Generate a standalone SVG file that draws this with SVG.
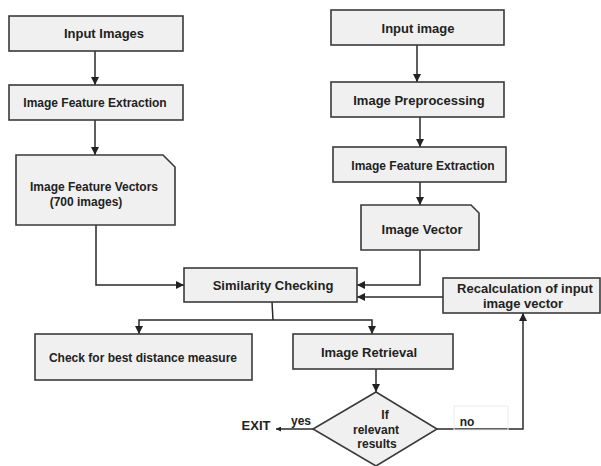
<svg xmlns="http://www.w3.org/2000/svg" width="601" height="466" viewBox="0 0 601 466">
<style>
.box{fill:#f0f0f0;stroke:#3a3a3a;stroke-width:1.6}
.t{font-family:"Liberation Sans",Arial,sans-serif;font-weight:bold;fill:#222;text-anchor:middle}
.s12{font-size:12px}
.s13{font-size:13px}
.c{fill:none;stroke:#2a2a2a;stroke-width:1.5}
</style>
<defs>
<marker id="ah" viewBox="0 0 10 10" refX="10" refY="5" markerWidth="8" markerHeight="8" markerUnits="userSpaceOnUse" orient="auto">
<path d="M0,0 L10,5 L0,10 z" fill="#222"/>
</marker>
<marker id="ahs" viewBox="0 0 10 10" refX="10" refY="5" markerWidth="5" markerHeight="5" markerUnits="userSpaceOnUse" orient="auto">
<path d="M0,0 L10,5 L0,10 z" fill="#222"/>
</marker>
</defs>
<rect width="601" height="466" fill="#fff"/>
<g id="connectors">
<path class="c" d="M95,51 V85" marker-end="url(#ah)"/>
<path class="c" d="M95,120 V155" marker-end="url(#ah)"/>
<path class="c" d="M96,225 V285 H184" marker-end="url(#ah)"/>
<path class="c" d="M417,45 V82" marker-end="url(#ah)"/>
<path class="c" d="M420,117 V147" marker-end="url(#ah)"/>
<path class="c" d="M420,182 V205" marker-end="url(#ah)"/>
<path class="c" d="M420,250 V285 H357" marker-end="url(#ah)"/>
<path class="c" d="M443,297 H357" marker-end="url(#ah)"/>
<path class="c" d="M272,302 L273,320"/>
<path class="c" d="M273,320 H139 V334" marker-end="url(#ah)"/>
<path class="c" d="M273,320 H372 V334" marker-end="url(#ah)"/>
<path class="c" d="M376,369 V392" marker-end="url(#ah)"/>
<path class="c" d="M437,429 H523 V313" marker-end="url(#ah)"/>
<path class="c" d="M313,429 H276" marker-end="url(#ahs)"/>
</g>
<g id="input-images"><rect class="box" x="9" y="16" width="174" height="35"/><text class="t s13" x="104" y="38">Input Images</text></g>
<g id="ife-left"><rect class="box" x="9" y="85" width="174" height="35"/><text class="t s12" x="95" y="107">Image Feature Extraction</text></g>
<g id="feature-vectors"><path class="box" d="M16,155 H163 L175,167 V225 H16 Z"/><text class="t s12" x="94" y="191">Image Feature Vectors</text><text class="t s12" x="86" y="206">(700 images)</text></g>
<g id="input-image"><rect class="box" x="331" y="10" width="173" height="35"/><text class="t s13" x="418" y="33">Input image</text></g>
<g id="preprocessing"><rect class="box" x="331" y="82" width="173" height="35"/><text class="t s13" x="419" y="105">Image Preprocessing</text></g>
<g id="ife-right"><rect class="box" x="333" y="147" width="173" height="35"/><text class="t s12" x="423" y="170">Image Feature Extraction</text></g>
<g id="image-vector"><path class="box" d="M361,205 H471 L479,213 V250 H361 Z"/><text class="t s13" x="422" y="234">Image Vector</text></g>
<g id="similarity"><rect class="box" x="184" y="268" width="173" height="34"/><text class="t s13" x="273" y="290">Similarity Checking</text></g>
<g id="recalc"><rect class="box" x="443" y="278" width="157" height="35"/><text class="t s13" x="525" y="293">Recalculation of input</text><text class="t s13" x="523" y="308">image vector</text></g>
<g id="best-distance"><rect class="box" x="35" y="334" width="217" height="46"/><text class="t s12" x="143" y="362">Check for best distance measure</text></g>
<g id="retrieval"><rect class="box" x="293" y="334" width="160" height="35"/><text class="t s13" x="369" y="357">Image Retrieval</text></g>
<g id="decision"><path class="box" d="M376,392 L437,429 L376,466 L313,429 Z"/><text class="t s12" x="385" y="419">If</text><text class="t s12" x="376" y="434">relevant</text><text class="t s12" x="377" y="448">results</text></g>
<g id="labels">
<rect x="454" y="406" width="54" height="24" fill="none" stroke="#ececec" stroke-width="1"/>
<text class="t s12" x="467" y="426">no</text>
<text class="t s12" x="301" y="425">yes</text>
<text class="t s13" x="256" y="430">EXIT</text>
</g>
</svg>
